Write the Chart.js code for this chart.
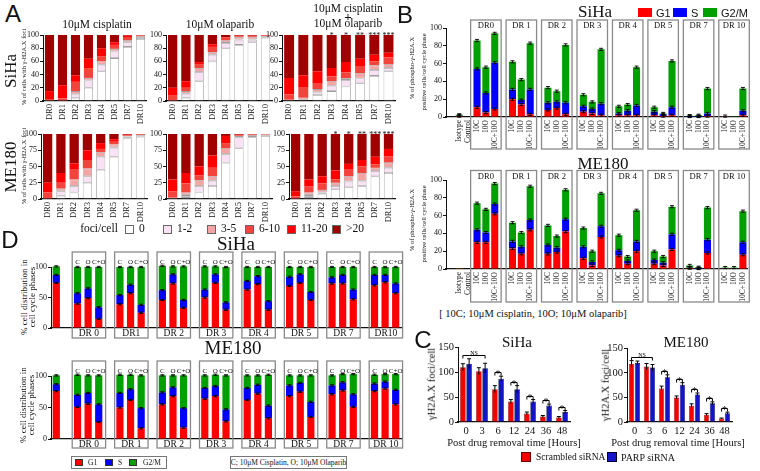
<!DOCTYPE html>
<html><head><meta charset="utf-8"><title>chart</title>
<script src="https://cdn.jsdelivr.net/npm/chart.js@4.4.1/dist/chart.umd.min.js"></script>
<style>
html,body{margin:0;padding:0;background:#fff}
body{width:760px;height:471px;position:relative;overflow:hidden;font-family:'Liberation Serif',serif;color:#111}
.t{position:absolute;white-space:nowrap;line-height:1;transform:translate(-50%,-50%)}
.sw{position:absolute;box-sizing:border-box}
canvas{position:absolute}
</style></head><body>
<script>
// ---------------- DATA ----------------
const DR = ['DR0','DR1','DR2','DR3','DR4','DR5','DR7','DR10'];
const FOCI = ['0','1-2','3-5','6-10','11-20','>20'];
// Panel A: rows = foci class (0,1-2,3-5,6-10,11-20,>20), columns = DR0..DR10 (% of cells)
const A_SIHA_CIS = [
  [0,0,5,20,45,65,82,94],
  [0,0,5,11,10,10,7,3],
  [1,1,5,4,5,4,3,1],
  [2,3,14,14,8,6,5,1],
  [12,20,10,15,12,4,2,0.5],
  [85,76,61,36,20,11,1,0.5]];
const A_SIHA_OLA = [
  [0,5,30,60,80,85,89,96],
  [0,6,14,10,8,8,4,1.5],
  [1,4,6,4,4,4,4,1],
  [7,5,5,8,4,1,1,0.5],
  [12,10,4,4,1,1,1,0.5],
  [80,70,41,14,3,1,1,0.5]];
const A_SIHA_COMB = [
  [0,0,9,15,22,27,38,45],
  [0,1,4,8,10,7,9,5],
  [2,4,5,7,3,8,7,6],
  [8,15,8,7,8,11,6,10],
  [25,19,19,13,16,11,10,7],
  [65,61,55,50,41,36,30,27]];
const A_ME_CIS = [
  [0,5,10,25,45,65,93,96],
  [0,7,10,10,20,14,3,1.5],
  [1,4,10,12,7,5,1,1],
  [9,9,15,13,5,4,1,0.5],
  [15,15,10,15,9,4,1,0.5],
  [75,60,45,25,14,8,1,0.5]];
const A_ME_OLA = [
  [0,3,10,20,56,78,95,97],
  [0,3,10,8,13,17,2,1],
  [2,4,9,7,9,2,1,1],
  [10,14,7,13,8,1,1,0.5],
  [18,16,14,19,11,1,0.5,0.3],
  [70,60,50,33,3,1,0.5,0.2]];
const A_ME_COMB = [
  [0,3,8,15,18,20,35,40],
  [0,3,2,5,9,8,8,8],
  [1,4,4,5,8,12,5,8],
  [3,9,10,5,10,10,5,10],
  [8,11,11,14,9,10,12,11],
  [88,70,65,56,46,40,35,23]];
const A_STARS = ['','','','*','*','**','***','***'];

// Panel B: [Isotype, DR0(10C,10O,10C+10O), DR1(...), ... DR10(...)]
const B_GROUPS = ['DR0','DR 1','DR 2','DR 3','DR 4','DR 5','DR 7','DR 10'];
const B_TREAT = ['10C','10O','10C+10O'];
const B_SIHA_G1 = [1, 11,5,9, 20,14,3, 8,10,3, 6,4,2, 2,2,2, 2,1,2, 0.5,0.5,1, 0.3,0,2];
const B_SIHA_S  = [0.5, 43,22,52, 11,5,28, 8,7,13, 6,5,13, 2,5,11, 4,2,9, 0.5,0.5,3, 0.3,0,5];
const B_SIHA_G2 = [1, 32,29,33, 31,23,52, 17,12,65, 13,8,61, 8,7,43, 5,1,52, 0.5,1,28, 0.4,0.2,25];
const B_ME_G1 = [0.3, 30,30,62, 23,17,44, 17,19,42, 12,4,36, 15,6,20, 6,4,22, 1,0.5,18, 0.3,0.3,16];
const B_ME_S  = [0.1, 14,11,11, 8,8,11, 10,5,14, 13,4,12, 6,3,11, 4,3,17, 0.5,0.5,15, 0.3,0.3,14];
const B_ME_G2 = [0.2, 30,26,23, 21,16,38, 22,13,33, 21,12,37, 17,5,35, 10,7,31, 2.5,1,36, 1,1,35];
const B_ERR = 1.2;

// Panel D: [untreated, DR0(C,O,C+O), ... DR10]
const D_SIHA_GROUPS = ['DR 0','DR1','DR 2','DR 3','DR 4','DR 5','DR 7','DR10'];
const D_ME_GROUPS = ['DR 0','DR 1','DR 2','DR 3','DR 4','DR 5','DR 7','DR 10'];
const D_TREAT = ['C','O','C+O'];
const D_SIHA_G1 = [74, 40,49,15, 39,57,25, 46,73,33, 50,74,30, 63,72,30, 69,74,46, 73,73,47, 70,75,57];
const D_SIHA_S  = [13, 17,16,19, 15,14,13, 16,15,13, 13,14,12, 14,13,14, 15,14,13, 10,14,16, 17,12,16];
const D_SIHA_G2 = [14, 43,35,66, 46,29,62, 40,13,55, 38,13,58, 23,15,56, 16,12,41, 17,13,37, 13,13,27];
const D_ME_G1 = [76, 51,56,27, 50,62,17, 55,68,18, 64,68,28, 62,72,33, 68,75,35, 71,77,51, 76,80,55];
const D_ME_S  = [11, 19,17,28, 23,17,32, 19,14,31, 17,16,19, 19,14,20, 17,14,24, 14,13,20, 12,11,23];
const D_ME_G2 = [14, 32,28,46, 29,23,52, 27,19,52, 20,18,54, 20,15,49, 16,12,42, 16,13,32, 14,12,25];
const D_ERR = 1.0;

// Panel C: gammaH2A.X foci/cell vs hours after drug removal
const C_HOURS = ['0','3','6','12','24','36','48'];
const C_SIHA_SCR = [110,102,66,41,17,11,9];
const C_SIHA_SCR_ERR = [7,7,7,4,3,2,2];
const C_SIHA_PARP = [117,108,87,66,41,33,20];
const C_SIHA_PARP_ERR = [10,10,5,7,4,3,3];
const C_ME_SCR = [118,113,68,50,33,15,7];
const C_ME_SCR_ERR = [7,6,5,3,4,2,1];
const C_ME_PARP = [120,111,91,76,56,38,18];
const C_ME_PARP_ERR = [4,6,5,4,3,3,2];
const C_SIG = ['NS','NS','*','*','*','*','*'];

// ---------------- STYLE ----------------
const SERIF = "'Liberation Serif', 'Times New Roman', serif";
const SANS = "'Liberation Sans', Arial, sans-serif";
const FOCI_COLORS = ['#ffffff','#f8e2f4','#f6a3a3','#f2443c','#fe0000','#a10000'];
const PH_COLORS = ['#ff0000','#0000ff','#00a000'];
Chart.defaults.font.family = SERIF;
Chart.defaults.color = '#111';

// ---------------- HELPERS ----------------
function T(s, x, y, size, opt){
  opt = opt || {};
  const d = document.createElement('div');
  d.className = 't'; d.textContent = s;
  d.style.left = x + 'px'; d.style.top = y + 'px'; d.style.fontSize = size + 'px';
  if (opt.sans) d.style.fontFamily = SANS;
  if (opt.bold) d.style.fontWeight = 'bold';
  if (opt.rot) d.style.transform = 'translate(-50%,-50%) rotate(-90deg)';
  if (opt.left) d.style.transform = 'translate(0,-50%)';
  document.body.appendChild(d); return d;
}
function R(x, y, w, h, fill, stroke, bw){
  const d = document.createElement('div'); d.className = 'sw';
  d.style.left = x + 'px'; d.style.top = y + 'px'; d.style.width = w + 'px'; d.style.height = h + 'px';
  d.style.background = fill || 'transparent';
  if (stroke) d.style.border = (bw || 1) + 'px solid ' + stroke;
  document.body.appendChild(d); return d;
}
function mk(o){
  const W = Math.round(o.r - o.l + o.yW + o.padR), H = Math.round(o.b - o.t + o.padT + o.xH);
  const cv = document.createElement('canvas');
  cv.width = W; cv.height = H;
  cv.style.left = (o.l - o.yW) + 'px'; cv.style.top = (o.t - o.padT) + 'px';
  cv.style.width = W + 'px'; cv.style.height = H + 'px';
  document.body.appendChild(cv);
  const c = o.cfg;
  Object.assign(c.options, {responsive:false, maintainAspectRatio:false, animation:false, devicePixelRatio:1,
    layout:{padding:{top:o.padT, right:o.padR, left:0, bottom:0}}});
  c.options.plugins = Object.assign({legend:{display:false}, tooltip:{enabled:false}}, c.options.plugins || {});
  c.options.scales.y.afterFit = s => { s.width = o.yW; };
  c.options.scales.x.afterFit = s => { s.height = o.xH; };
  return new Chart(cv, c);
}
function yAx(max, step, size, stacked){
  return {min:0, max:max, stacked:stacked,
    ticks:{stepSize:step, font:{size:size, family:SERIF}, padding:1, color:'#111'},
    grid:{drawOnChartArea:false, drawTicks:true, tickLength:3, color:'#111'},
    border:{display:true, color:'#111', width:1}};
}
function xAx(size, rot, show, stacked, pad){
  return {type:'category', stacked:stacked, offset:true,
    ticks:{display:show, font:{size:size, family:SERIF}, minRotation:rot, maxRotation:rot, autoSkip:false, padding:pad, color:'#111'},
    grid:{display:false, drawTicks:false, tickLength:0}, border:{display:true, color:'#111', width:1.2}};
}
// builds slot arrays: optional lead empty slot, control, gap, then 8 groups of 3 separated by gaps
function slots(arr, lead){
  const out = lead ? [null] : [];
  out.push(arr[0]); out.push(null);
  for (let g = 0; g < 8; g++){
    out.push(arr[1+3*g], arr[2+3*g], arr[3+3*g]);
    if (g < 7) out.push(null);
  }
  return out;
}
function slotLabels(ctrl, treat, lead){
  const out = lead ? [''] : [];
  out.push(ctrl); out.push('');
  for (let g = 0; g < 8; g++){ out.push(...treat); if (g < 7) out.push(''); }
  return out;
}
function segErr(err, cap){
  return {id:'segErr', afterDatasetsDraw(chart){
    const ctx = chart.ctx, ys = chart.scales.y;
    const e = Math.abs(ys.getPixelForValue(err) - ys.getPixelForValue(0));
    ctx.save(); ctx.strokeStyle = '#000'; ctx.lineWidth = 0.9;
    chart.data.datasets.forEach((ds, di) => {
      chart.getDatasetMeta(di).data.forEach((el, i) => {
        const v = ds.data[i]; if (v == null || v < 0.4) return;
        ctx.beginPath();
        ctx.moveTo(el.x, el.y - e); ctx.lineTo(el.x, el.y + e);
        ctx.moveTo(el.x - cap, el.y - e); ctx.lineTo(el.x + cap, el.y - e);
        ctx.moveTo(el.x - cap, el.y + e); ctx.lineTo(el.x + cap, el.y + e);
        ctx.stroke();
      });
    });
    ctx.restore();
  }};
}
function groupBoxes(o){
  return {id:'groups', afterDraw(chart){
    const ctx = chart.ctx, xs = chart.scales.x, ca = chart.chartArea;
    const slot = xs.getPixelForValue(1) - xs.getPixelForValue(0);
    ctx.save();
    o.names.forEach((nm, g) => {
      const f = o.first + 4*g;
      const x0 = xs.getPixelForValue(f) - slot*o.padL, x1 = xs.getPixelForValue(f+2) + slot*o.padR;
      const y0 = ca.top - o.above, y1 = chart.height - 1;
      ctx.strokeStyle = '#8a8a8a'; ctx.lineWidth = 1.3;
      ctx.strokeRect(x0, y0, x1 - x0, y1 - y0);
      ctx.fillStyle = '#111'; ctx.textAlign = 'center'; ctx.textBaseline = 'middle';
      ctx.font = o.nameSize + 'px ' + SERIF;
      const ny = o.nameTop ? y0 + o.nameOff : ca.bottom + o.nameOff;
      ctx.fillText(nm, (x0 + x1)/2, ny);
      if (o.sub){
        ctx.font = o.subSize + 'px ' + SERIF;
        o.sub.forEach((s, k) => ctx.fillText(s, xs.getPixelForValue(f + k), ca.top - o.subOff));
      }
    });
    ctx.restore();
  }};
}
function starPlug(stars){
  return {id:'stars', afterDatasetsDraw(chart){
    const ctx = chart.ctx, xs = chart.scales.x, ca = chart.chartArea;
    ctx.save(); ctx.fillStyle = '#111'; ctx.font = '8px ' + SERIF; ctx.textAlign = 'center'; ctx.textBaseline = 'alphabetic';
    stars.forEach((s, i) => { if (s) ctx.fillText(s, xs.getPixelForValue(i), ca.top + 3); });
    ctx.restore();
  }};
}
function cPlug(sig){
  return {id:'cerr', afterDatasetsDraw(chart){
    const ctx = chart.ctx, ys = chart.scales.y;
    const ds = chart.data.datasets, m = [chart.getDatasetMeta(0).data, chart.getDatasetMeta(1).data];
    ctx.save(); ctx.strokeStyle = '#000'; ctx.fillStyle = '#000'; ctx.lineWidth = 1;
    [0,1].forEach(k => m[k].forEach((el, i) => {
      const v = ds[k].data[i], e = ds[k].err[i];
      const yt = ys.getPixelForValue(v + e), yb = ys.getPixelForValue(v - e);
      ctx.beginPath(); ctx.moveTo(el.x, yt); ctx.lineTo(el.x, yb);
      ctx.moveTo(el.x - 2, yt); ctx.lineTo(el.x + 2, yt); ctx.stroke();
    }));
    const top = i => Math.max(ds[0].data[i] + ds[0].err[i], ds[1].data[i] + ds[1].err[i]);
    function br(xL, xR, v, lab){
      const y = Math.round(ys.getPixelForValue(v)) + 0.5;
      ctx.beginPath(); ctx.moveTo(xL, y + 3); ctx.lineTo(xL, y); ctx.lineTo(xR, y); ctx.lineTo(xR, y + 3); ctx.stroke();
      ctx.textAlign = 'center'; ctx.textBaseline = 'alphabetic';
      if (lab === '*'){ ctx.font = '10px ' + SERIF; ctx.fillText(lab, (xL + xR)/2, y + 4); }
      else { ctx.font = '6px ' + SERIF; ctx.fillText(lab, (xL + xR)/2, y - 1); }
    }
    let i = 0;
    while (i < sig.length){
      if (sig[i] === 'NS'){
        let j = i; while (j + 1 < sig.length && sig[j+1] === 'NS') j++;
        let mx = 0; for (let k = i; k <= j; k++) mx = Math.max(mx, top(k));
        br(m[0][i].x, m[1][j].x, mx + 8, 'NS'); i = j + 1;
      } else { if (sig[i]) br(m[0][i].x, m[1][i].x, top(i) + 8, sig[i]); i++; }
    }
    ctx.restore();
  }};
}

// ---------------- PANEL A ----------------
function aChart(data, l, r, t, b, step, stars){
  const plugins = stars ? [starPlug(stars)] : [];
  return mk({l, r, t, b, yW:18, padT:8, padR:5, xH:28, cfg:{type:'bar',
    data:{labels:DR, datasets:FOCI.map((f, k) => ({label:f, data:data[k], backgroundColor:FOCI_COLORS[k],
      borderColor:'#a0a0a0', borderWidth:k < 3 ? 0.8 : 0, borderSkipped:false, barPercentage:0.7, categoryPercentage:1}))},
    options:{scales:{x:xAx(8.5, 90, true, true, 3), y:yAx(100, step, 8, true)}}, plugins}});
}
aChart(A_SIHA_CIS, 42.8, 149, 34.5, 100.5, 20);
aChart(A_SIHA_OLA, 165.7, 273.8, 34.5, 100.5, 20);
aChart(A_SIHA_COMB, 282, 396.7, 34.5, 100.5, 20, A_STARS);
aChart(A_ME_CIS, 40.8, 148.8, 134, 199, 25);
aChart(A_ME_OLA, 165.7, 273.8, 134, 199, 25);
aChart(A_ME_COMB, 289, 396.6, 134, 199, 25, A_STARS);

T('A', 13, 14, 24, {sans:true});
T('10μM cisplatin', 97, 25, 11.5);
T('10μM olaparib', 220, 25, 11.5);
T('10μM cisplatin', 348, 8.5, 11.5);
T('+', 348, 15.5, 13, {bold:true});
T('10μM olaparib', 348, 24, 11.5);
T('SiHa', 10, 71, 17, {rot:true});
T('ME180', 10, 167, 17, {rot:true});
T('% of cells with γ-H2A.X foci', 23.5, 67, 6.5, {rot:true});
T('% of cells with γ-H2A.X foci', 23.5, 166, 6.5, {rot:true});
T('foci/cell', 99, 229, 11.5);
[[125,'0'],[163,'1-2'],[207,'3-5'],[245,'6-10'],[287,'11-20'],[332,'>20']].forEach((p, k) => {
  R(p[0], 224.5, 9, 9, FOCI_COLORS[k], '#666', 1);
  T(p[1], p[0] + 14, 229, 11.5, {left:true});
});

// ---------------- PANEL B ----------------
function bChart(g1, s, g2, t, b, padT, xH, above){
  const labels = slotLabels(['Isotype','Control'], B_TREAT, true);
  return mk({l:446.4, r:749, t, b, yW:20, padT, padR:6, xH, cfg:{type:'bar',
    data:{labels, datasets:[g1, s, g2].map((arr, k) => ({label:['G1','S','G2/M'][k], data:slots(arr, true),
      backgroundColor:PH_COLORS[k], borderWidth:0, barPercentage:0.8, categoryPercentage:1}))},
    options:{scales:{x:xAx(7.5, 90, true, true, 3), y:yAx(100, 20, 8, true)}},
    plugins:[segErr(B_ERR, 2), groupBoxes({names:B_GROUPS, first:3, padL:0.72, padR:0.72, above, nameTop:true, nameOff:6, nameSize:8.5})]}});
}
bChart(B_SIHA_G1, B_SIHA_S, B_SIHA_G2, 28, 117, 10, 33, 8);
bChart(B_ME_G1, B_ME_S, B_ME_G2, 180, 269, 11, 34, 9.5);

T('B', 405, 15, 24, {sans:true});
T('SiHa', 595, 11, 17);
T('ME180', 603, 163, 17);
R(638, 8, 14, 9, PH_COLORS[0]); T('G1', 656, 12.5, 11, {sans:true, left:true});
R(673, 8, 14, 9, PH_COLORS[1]); T('S', 691, 12.5, 11, {sans:true, left:true});
R(703, 8, 14, 9, PH_COLORS[2]); T('G2/M', 721, 12.5, 11, {sans:true, left:true});
T('% of  phospho-γ-H2A.X', 412, 68, 6.5, {rot:true});
T('positive cells/cell cycle phase', 424, 72, 6.5, {rot:true});
T('% of  phospho-γ-H2A.X', 412, 220, 6.5, {rot:true});
T('positive cells/cell cycle phase', 424, 224, 6.5, {rot:true});
T('[ 10C; 10μM cisplatin, 10O; 10μM olaparib]', 533, 314, 10.5);

// ---------------- PANEL D ----------------
function dChart(g1, s, g2, names, t, b, xH, l, r){
  const labels = slotLabels('Untreated', D_TREAT, false);
  return mk({l, r, t, b, yW:18, padT:17, padR:6, xH, cfg:{type:'bar',
    data:{labels, datasets:[g1, s, g2].map((arr, k) => ({label:['G1','S','G2/M'][k], data:slots(arr, false),
      backgroundColor:PH_COLORS[k], borderWidth:0, barPercentage:0.68, categoryPercentage:1, clip:false}))},
    options:{scales:{x:xAx(7, 0, false, true, 0), y:yAx(100, 50, 8, true)}},
    plugins:[segErr(D_ERR, 2), groupBoxes({names, first:2, padL:0.5, padR:0.65, above:15, nameTop:false, nameOff:5.5, nameSize:9.5,
      sub:D_TREAT, subSize:7, subOff:5})]}});
}
dChart(D_SIHA_G1, D_SIHA_S, D_SIHA_G2, D_SIHA_GROUPS, 267, 328, 11, 51.4, 401.2);
dChart(D_ME_G1, D_ME_S, D_ME_G2, D_ME_GROUPS, 376, 439, 10, 51, 401);

T('D', 10, 240, 24, {sans:true});
T('SiHa', 236, 243, 19);
T('ME180', 233, 347, 19);
T('% cell distribution in', 23.5, 297, 9, {rot:true});
T('cell cycle phases', 32, 297, 9, {rot:true});
T('% cell distribution in', 22.5, 405, 9, {rot:true});
T('cell cycle phases', 31, 405, 9, {rot:true});
R(71, 456, 96, 13, '#fff', '#777', 1);
R(75, 459, 8, 7, PH_COLORS[0], '#333', 0.5); T('G1', 88, 462.5, 7.5, {left:true});
R(105, 459, 8, 7, PH_COLORS[1], '#333', 0.5); T('S', 118, 462.5, 7.5, {left:true});
R(129, 459, 8, 7, PH_COLORS[2], '#333', 0.5); T('G2/M', 143, 462.5, 7.5, {left:true});
R(230, 456, 117, 13, '#fff', '#777', 1);
T('C; 10μM Cisplatin, O; 10μM Olaparib', 288.5, 462.5, 7.5);

// ---------------- PANEL C ----------------
function cChart(scr, scrE, parp, parpE, l, r, t, b){
  return mk({l, r, t, b, yW:22, padT:6, padR:4, xH:16, cfg:{type:'bar',
    data:{labels:C_HOURS, datasets:[
      {label:'Scrambled siRNA', data:scr, err:scrE, backgroundColor:'#f40000', borderColor:'#700', borderWidth:0.6, borderSkipped:'bottom', barPercentage:0.9, categoryPercentage:0.78},
      {label:'PARP siRNA', data:parp, err:parpE, backgroundColor:'#1414c8', borderColor:'#003', borderWidth:0.6, borderSkipped:'bottom', barPercentage:0.9, categoryPercentage:0.78}]},
    options:{scales:{x:xAx(10.5, 0, true, false, 3), y:yAx(150, 50, 10.5, false)}},
    plugins:[cPlug(C_SIG)]}});
}
cChart(C_SIHA_SCR, C_SIHA_SCR_ERR, C_SIHA_PARP, C_SIHA_PARP_ERR, 458, 569.5, 346, 422.3);
cChart(C_ME_SCR, C_ME_SCR_ERR, C_ME_PARP, C_ME_PARP_ERR, 627, 732, 347.3, 422.3);

T('C', 423, 340, 24, {sans:true});
T('SiHa', 517, 341.5, 15);
T('ME180', 686, 342, 15);
T('γH2A.X foci/cell', 432, 384, 10.5, {rot:true});
T('γH2A.X foci/cell', 606, 385, 10.5, {rot:true});
T('Post drug removal time [Hours]', 514, 443, 10.5);
T('Post drug removal time [Hours]', 678, 443, 10.5);
R(521, 452, 10, 10, '#f40000', '#600', 1); T('Scrambled siRNA', 536, 457.5, 9.5, {left:true});
R(607, 452, 10, 10, '#1414c8', '#003', 1); T('PARP siRNA', 621, 457.5, 10, {left:true});
</script>
</body></html>
